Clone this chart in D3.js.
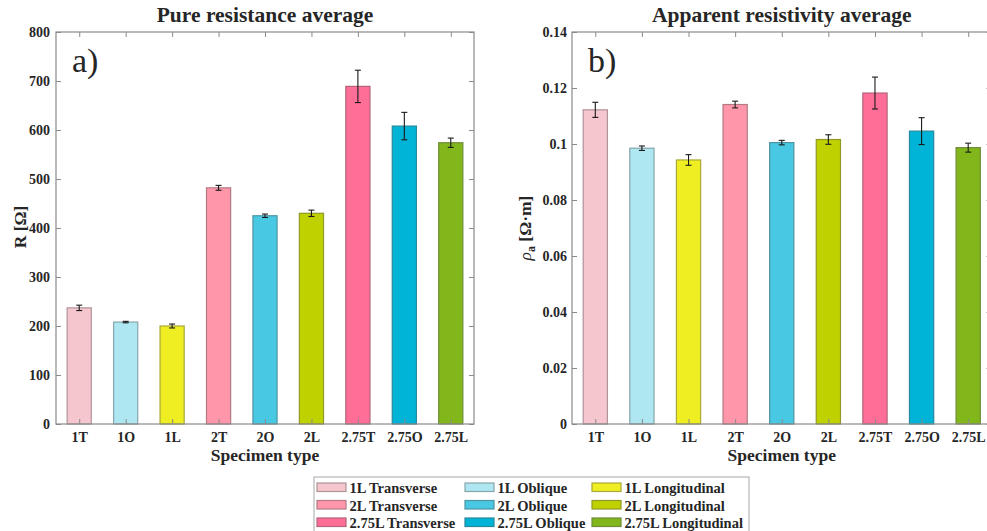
<!DOCTYPE html>
<html>
<head>
<meta charset="utf-8">
<script src="https://cdn.jsdelivr.net/npm/d3@7/dist/d3.min.js"></script>
<style>
  html, body { margin: 0; padding: 0; background: #fff; }
  svg { display: block; }
  text { font-family: "Liberation Serif", "Times New Roman", serif; fill: #262626; }
</style>
</head>
<body>
<svg id="chart" width="987" height="531"></svg>
<script>
// Specimen types along the x axis
const categories = ["1T", "1O", "1L", "2T", "2O", "2L", "2.75T", "2.75O", "2.75L"];
const legendNames = ["1L Transverse", "1L Oblique", "1L Longitudinal",
                     "2L Transverse", "2L Oblique", "2L Longitudinal",
                     "2.75L Transverse", "2.75L Oblique", "2.75L Longitudinal"];

// Pure resistance (Ω): mean and error half-width
const resistance = [237, 208, 200, 482, 425, 430, 689, 608, 574];
const resistanceErr = [5.5, 1.5, 4, 5, 3.5, 6.5, 33, 28, 9.5];

// Apparent resistivity (Ω·m): mean and error half-width
const resistivity = [0.1122, 0.0985, 0.0943, 0.1141, 0.1005, 0.1016, 0.1182, 0.1046, 0.0987];
const resistivityErr = [0.0027, 0.0008, 0.0019, 0.0012, 0.0008, 0.0017, 0.0057, 0.0048, 0.0016];

// Axis ticks
const resistanceTicks = [0, 100, 200, 300, 400, 500, 600, 700, 800];
const resistivityTicks = [0, 0.02, 0.04, 0.06, 0.08, 0.1, 0.12, 0.14];

const fills = ["#f6c6ce", "#aee7f2", "#eeee22", "#ff96aa", "#48c8e2", "#c0d100", "#ff6e96", "#00b4d8", "#82b71c"];
const edge = c => d3.interpolateRgb(c, "#555")(0.45);

const svg = d3.select("#chart");
const axisColor = "#8a8a8a";

function panel(opts) {
  const { left, right, top, bottom, values, errs, ticks, title, tag, tickFmt, labelPad } = opts;
  const g = svg.append("g");

  const x = d3.scaleLinear().domain([0.5, 9.5]).range([left, right]);
  const y = d3.scaleLinear().domain([0, ticks[ticks.length - 1]]).range([bottom, top]);
  const bw = (x(2) - x(1)) * 0.52;

  // bars
  g.selectAll("rect.bar").data(values).join("rect")
    .attr("class", "bar")
    .attr("x", (d, i) => x(i + 1) - bw / 2)
    .attr("y", d => y(d))
    .attr("width", bw)
    .attr("height", d => y(0) - y(d))
    .attr("fill", (d, i) => fills[i])
    .attr("stroke", (d, i) => edge(fills[i]))
    .attr("stroke-width", 1.2);

  // error bars
  const eb = g.selectAll("g.err").data(values).join("g").attr("class", "err");
  const cap = 3;
  eb.append("line")
    .attr("x1", (d, i) => x(i + 1)).attr("x2", (d, i) => x(i + 1))
    .attr("y1", (d, i) => y(d + errs[i])).attr("y2", (d, i) => y(d - errs[i]));
  eb.append("line")
    .attr("x1", (d, i) => x(i + 1) - cap).attr("x2", (d, i) => x(i + 1) + cap)
    .attr("y1", (d, i) => y(d + errs[i])).attr("y2", (d, i) => y(d + errs[i]));
  eb.append("line")
    .attr("x1", (d, i) => x(i + 1) - cap).attr("x2", (d, i) => x(i + 1) + cap)
    .attr("y1", (d, i) => y(d - errs[i])).attr("y2", (d, i) => y(d - errs[i]));
  eb.selectAll("line").attr("stroke", "#1a1a1a").attr("stroke-width", 1.1);

  // axes box with inward ticks on all sides
  const tickLen = 5;
  const yAxisL = d3.axisLeft(y).tickValues(ticks).tickSize(-tickLen).tickPadding(labelPad).tickFormat(tickFmt);
  const yAxisR = d3.axisRight(y).tickValues(ticks).tickSize(-tickLen).tickFormat("");
  const xAxisB = d3.axisBottom(x).tickValues(d3.range(1, 10)).tickSize(-tickLen).tickPadding(8)
    .tickFormat(d => categories[d - 1]);
  const xAxisT = d3.axisTop(x).tickValues(d3.range(1, 10)).tickSize(-tickLen).tickFormat("");

  const styleAxis = sel => {
    sel.selectAll(".tick line").attr("stroke", axisColor);
    sel.selectAll(".tick text").attr("fill", "#262626")
      .style("font-family", "'Liberation Serif', serif").style("font-weight", "bold").style("font-size", "14px");
  };
  g.append("g").attr("transform", `translate(${left},0)`).call(yAxisL).call(styleAxis);
  g.append("g").attr("transform", `translate(${right},0)`).call(yAxisR).call(styleAxis);
  g.append("g").attr("transform", `translate(0,${bottom})`).call(xAxisB).call(styleAxis);
  g.append("g").attr("transform", `translate(0,${top})`).call(xAxisT).call(styleAxis);
  g.selectAll(".domain").remove();
  g.append("rect").attr("x", left).attr("y", top).attr("width", right - left).attr("height", bottom - top)
    .attr("fill", "none").attr("stroke", axisColor).attr("stroke-width", 1.2);

  // title
  g.append("text").attr("x", (left + right) / 2).attr("y", 22)
    .attr("text-anchor", "middle").style("font-weight", "bold").style("font-size", "21.5px")
    .attr("fill", "#000").text(title);

  // panel tag
  g.append("text").attr("x", left + 16).attr("y", 72)
    .style("font-size", "34px").attr("fill", "#000").text(tag);

  // x label
  g.append("text").attr("x", (left + right) / 2).attr("y", 461)
    .attr("text-anchor", "middle").style("font-weight", "bold").style("font-size", "17.5px")
    .text("Specimen type");

  return g;
}

const gA = panel({
  left: 56, right: 474, top: 32, bottom: 424,
  values: resistance, errs: resistanceErr, ticks: resistanceTicks, labelPad: 6,
  title: "Pure resistance average", tag: "a)", tickFmt: d3.format("d")
});
gA.append("text").attr("transform", "translate(26,227) rotate(-90)")
  .attr("text-anchor", "middle").style("font-weight", "bold").style("font-size", "17.5px")
  .text("R [Ω]");

const gB = panel({
  left: 572, right: 991.5, top: 32, bottom: 424,
  values: resistivity, errs: resistivityErr, ticks: resistivityTicks, labelPad: 5,
  title: "Apparent resistivity average", tag: "b)", tickFmt: d => d === 0 ? "0" : String(+d.toFixed(2))
});
const yl = gB.append("text").attr("transform", "translate(531,228) rotate(-90)")
  .attr("text-anchor", "middle").style("font-weight", "bold").style("font-size", "17.5px");
yl.append("tspan").style("font-style", "italic").style("font-weight", "normal").text("ρ");
yl.append("tspan").attr("dy", 4).style("font-size", "12px").text("a");
yl.append("tspan").attr("dy", -4).text(" [Ω·m]");

// legend
const lg = svg.append("g");
lg.append("rect").attr("x", 314).attr("y", 477).attr("width", 435).attr("height", 70)
  .attr("fill", "#fff").attr("stroke", "#a8a8a8").attr("stroke-width", 1);
const colX = [317, 465, 592];
const rowY = [483, 500.5, 518];
legendNames.forEach((name, k) => {
  const col = k % 3, row = Math.floor(k / 3);
  lg.append("rect").attr("x", colX[col]).attr("y", rowY[row]).attr("width", 29).attr("height", 8.5)
    .attr("fill", fills[k]).attr("stroke", edge(fills[k])).attr("stroke-width", 1.2);
  lg.append("text").attr("x", colX[col] + 32.5).attr("y", rowY[row] + 10)
    .style("font-weight", "bold").style("font-size", "14.5px").attr("fill", "#000").text(name);
});
</script>
</body>
</html>
